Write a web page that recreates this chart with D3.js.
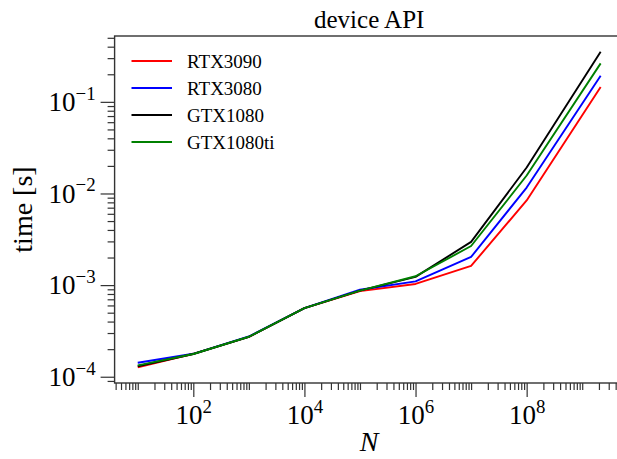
<!DOCTYPE html>
<html>
<head>
<meta charset="utf-8">
<script src="https://cdn.jsdelivr.net/npm/d3@7"></script>
<style>
  html, body { margin: 0; padding: 0; background: #fff; }
  svg { display: block; font-family: "Liberation Serif", "DejaVu Serif", serif; }
</style>
</head>
<body>
<svg id="chart" width="617" height="459"></svg>
<script>
// ---- data ----
const N = [10, 1e2, 1e3, 1e4, 1e5, 1e6, 1e7, 1e8, 2147483648];
const seriesNames = ["RTX3090", "RTX3080", "GTX1080", "GTX1080ti"];
const seriesColors = ["#ff0000", "#0000ff", "#000000", "#008000"];
const rtx3090   = [1.27e-4, 1.78e-4, 2.72e-4, 5.6e-4, 8.6e-4, 1.03e-3, 1.62e-3, 8.4e-3, 0.145];
const rtx3080   = [1.42e-4, 1.78e-4, 2.75e-4, 5.6e-4, 8.9e-4, 1.10e-3, 2.03e-3, 1.16e-2, 0.193];
const gtx1080   = [1.30e-4, 1.77e-4, 2.72e-4, 5.6e-4, 8.7e-4, 1.23e-3, 2.96e-3, 1.92e-2, 0.352];
const gtx1080ti = [1.33e-4, 1.77e-4, 2.73e-4, 5.6e-4, 8.7e-4, 1.25e-3, 2.67e-3, 1.57e-2, 0.263];
const seriesValues = [rtx3090, rtx3080, gtx1080, gtx1080ti];
const xMajorTicks = [1e2, 1e4, 1e6, 1e8];
const yMajorTicks = [1e-4, 1e-3, 1e-2, 1e-1];
const titleText = "device API";
const xLabelText = "N";
const yLabelText = "time [s]";

// ---- layout ----
const svg = d3.select("#chart");
const plot = { left: 114.6, right: 623.8, top: 36, bottom: 383 };

// matplotlib-like 5% margins in log space
function logDomain(vals) {
  const lo = Math.log10(d3.min(vals)), hi = Math.log10(d3.max(vals));
  const m = (hi - lo) * 0.05;
  return [Math.pow(10, lo - m), Math.pow(10, hi + m)];
}
const allY = seriesValues.flat();
const x = d3.scaleLog().domain(logDomain(N)).range([plot.left, plot.right]);
const y = d3.scaleLog().domain(logDomain(allY)).range([plot.bottom, plot.top]);

function minorTicks(scale) {
  const [a, b] = scale.domain();
  const out = [];
  for (let e = Math.floor(Math.log10(a)); e <= Math.ceil(Math.log10(b)); e++) {
    for (let k = 1; k <= 9; k++) {
      const v = k * Math.pow(10, e);
      if (v >= a && v <= b) out.push(v);
    }
  }
  return out;
}
const xMinor = minorTicks(x).filter(v => !xMajorTicks.some(m => Math.abs(m - v) / m < 1e-9));
const yMinor = minorTicks(y).filter(v => !yMajorTicks.some(m => Math.abs(m - v) / m < 1e-9));

const axisColor = "#333";
const tickFont = 27;

function supLabel(sel) {
  sel.each(function(d) {
    const e = Math.round(Math.log10(d));
    const t = d3.select(this);
    t.text(null);
    t.append("tspan").text("10");
    t.append("tspan")
      .attr("font-size", tickFont * 0.7)
      .attr("dy", -tickFont * 0.42)
      .text(e < 0 ? "\u2212" + (-e) : String(e));
  });
}

// x axis
const gx = svg.append("g").attr("transform", `translate(0,${plot.bottom})`);
const gxMinor = gx.append("g").call(d3.axisBottom(x).tickValues(xMinor).tickSize(7).tickFormat(""));
gxMinor.selectAll("text").remove();
const gxMajor = gx.append("g").call(d3.axisBottom(x).tickValues(xMajorTicks).tickSize(14).tickPadding(8));
gx.selectAll(".domain").remove();
gx.selectAll("line").attr("stroke", axisColor).attr("stroke-width", 1.2);
gxMajor.selectAll("text").attr("font-size", tickFont).attr("font-family", "Liberation Serif").attr("fill", "#000").call(supLabel);

// y axis
const gy = svg.append("g").attr("transform", `translate(${plot.left},0)`);
const gyMinor = gy.append("g").call(d3.axisLeft(y).tickValues(yMinor).tickSize(7).tickFormat(""));
gyMinor.selectAll("text").remove();
const gyMajor = gy.append("g").call(d3.axisLeft(y).tickValues(yMajorTicks).tickSize(14).tickPadding(5));
gy.selectAll(".domain").remove();
gy.selectAll("line").attr("stroke", axisColor).attr("stroke-width", 1.2);
gyMajor.selectAll("text").attr("font-size", tickFont).attr("font-family", "Liberation Serif").attr("fill", "#000").call(supLabel);

// frame
svg.append("rect")
  .attr("x", plot.left).attr("y", plot.top)
  .attr("width", plot.right - plot.left).attr("height", plot.bottom - plot.top)
  .attr("fill", "none").attr("stroke", axisColor).attr("stroke-width", 1.4);

// lines
const line = d3.line().x((d, i) => x(N[i])).y(d => y(d));
seriesValues.forEach((vals, i) => {
  svg.append("path")
    .datum(vals)
    .attr("d", line)
    .attr("fill", "none")
    .attr("stroke", seriesColors[i])
    .attr("stroke-width", 1.9)
    .attr("stroke-linejoin", "round");
});

// title
svg.append("text")
  .attr("x", (plot.left + plot.right) / 2).attr("y", 28)
  .attr("text-anchor", "middle").attr("font-size", 25)
  .text(titleText);

// axis labels
svg.append("text")
  .attr("x", (plot.left + plot.right) / 2).attr("y", 451)
  .attr("text-anchor", "middle").attr("font-size", 28).attr("font-style", "italic")
  .text(xLabelText);
svg.append("text")
  .attr("transform", `translate(32,${(plot.top + plot.bottom) / 2}) rotate(-90)`)
  .attr("text-anchor", "middle").attr("font-size", 28)
  .text(yLabelText);

// legend
const leg = svg.append("g");
seriesNames.forEach((name, i) => {
  const cy = 61 + i * 27;
  leg.append("line")
    .attr("x1", 131.5).attr("x2", 172).attr("y1", cy).attr("y2", cy)
    .attr("stroke", seriesColors[i]).attr("stroke-width", 1.9);
  leg.append("text")
    .attr("x", 187).attr("y", cy).attr("dy", "0.35em")
    .attr("font-size", 19)
    .text(name);
});
</script>
</body>
</html>
